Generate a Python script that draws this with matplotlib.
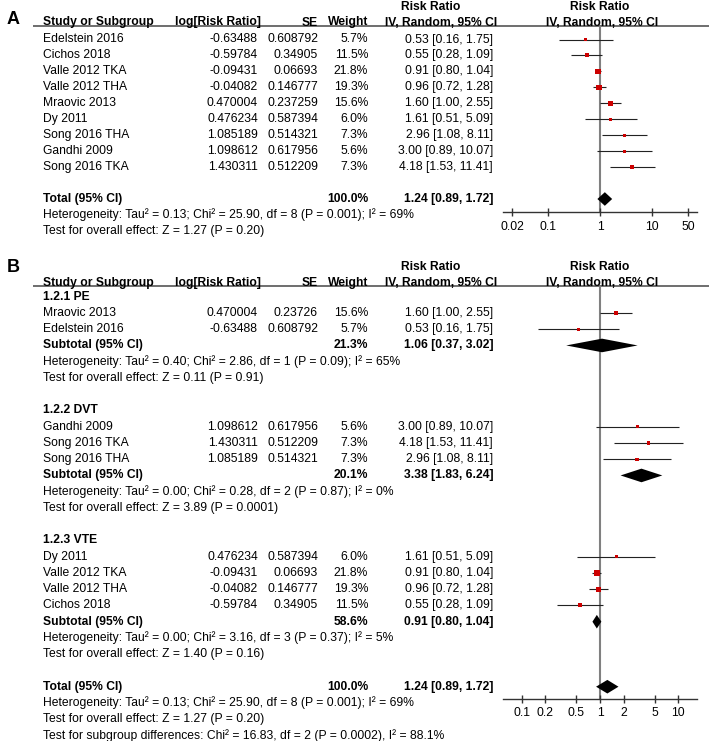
import matplotlib.pyplot as plt
import numpy as np

plt.rcParams['font.family'] = ['Liberation Sans', 'DejaVu Sans']

# ---------------- data ----------------
# panel A (all studies)
studies_a = ['Edelstein 2016', 'Cichos 2018', 'Valle 2012 TKA', 'Valle 2012 THA',
             'Mraovic 2013', 'Dy 2011', 'Song 2016 THA', 'Gandhi 2009', 'Song 2016 TKA']
log_rr_a = [-0.63488, -0.59784, -0.09431, -0.04082, 0.470004, 0.476234, 1.085189, 1.098612, 1.430311]
se_a = [0.608792, 0.34905, 0.06693, 0.146777, 0.237259, 0.587394, 0.514321, 0.617956, 0.512209]
weight_a = [5.7, 11.5, 21.8, 19.3, 15.6, 6.0, 7.3, 5.6, 7.3]
rr_a = [0.53, 0.55, 0.91, 0.96, 1.60, 1.61, 2.96, 3.00, 4.18]
lo_a = [0.16, 0.28, 0.80, 0.72, 1.00, 0.51, 1.08, 0.89, 1.53]
hi_a = [1.75, 1.09, 1.04, 1.28, 2.55, 5.09, 8.11, 10.07, 11.41]

# overall result (same in A and B)
total_w = 100.0
total_rr, total_lo, total_hi = 1.24, 0.89, 1.72
total_het = 'Heterogeneity: Tau² = 0.13; Chi² = 25.90, df = 8 (P = 0.001); I² = 69%'
total_test = 'Test for overall effect: Z = 1.27 (P = 0.20)'
subgroup_diff = 'Test for subgroup differences: Chi² = 16.83, df = 2 (P = 0.0002), I² = 88.1%'

# panel B subgroups
pe_studies = ['Mraovic 2013', 'Edelstein 2016']
pe_log = [0.470004, -0.63488]
pe_se = [0.23726, 0.608792]
pe_w = [15.6, 5.7]
pe_rr = [1.60, 0.53]
pe_lo = [1.00, 0.16]
pe_hi = [2.55, 1.75]

dvt_studies = ['Gandhi 2009', 'Song 2016 TKA', 'Song 2016 THA']
dvt_log = [1.098612, 1.430311, 1.085189]
dvt_se = [0.617956, 0.512209, 0.514321]
dvt_w = [5.6, 7.3, 7.3]
dvt_rr = [3.00, 4.18, 2.96]
dvt_lo = [0.89, 1.53, 1.08]
dvt_hi = [10.07, 11.41, 8.11]

vte_studies = ['Dy 2011', 'Valle 2012 TKA', 'Valle 2012 THA', 'Cichos 2018']
vte_log = [0.476234, -0.09431, -0.04082, -0.59784]
vte_se = [0.587394, 0.06693, 0.146777, 0.34905]
vte_w = [6.0, 21.8, 19.3, 11.5]
vte_rr = [1.61, 0.91, 0.96, 0.55]
vte_lo = [0.51, 0.80, 0.72, 0.28]
vte_hi = [5.09, 1.04, 1.28, 1.09]

group_names = ['1.2.1 PE', '1.2.2 DVT', '1.2.3 VTE']
sub_w = [21.3, 20.1, 58.6]
sub_rr = [1.06, 3.38, 0.91]
sub_lo = [0.37, 1.83, 0.80]
sub_hi = [3.02, 6.24, 1.04]
sub_het = ['Heterogeneity: Tau² = 0.40; Chi² = 2.86, df = 1 (P = 0.09); I² = 65%',
           'Heterogeneity: Tau² = 0.00; Chi² = 0.28, df = 2 (P = 0.87); I² = 0%',
           'Heterogeneity: Tau² = 0.00; Chi² = 3.16, df = 3 (P = 0.37); I² = 5%']
sub_test = ['Test for overall effect: Z = 0.11 (P = 0.91)',
            'Test for overall effect: Z = 3.89 (P = 0.0001)',
            'Test for overall effect: Z = 1.40 (P = 0.16)']

ticks_a = [0.02, 0.1, 1, 10, 50]
tick_labels_a = ['0.02', '0.1', '1', '10', '50']
ticks_b = [0.1, 0.2, 0.5, 1, 2, 5, 10]
tick_labels_b = ['0.1', '0.2', '0.5', '1', '2', '5', '10']

# ---------------- layout ----------------
W, H = 709, 741
FS = 8.7
X_NAME, X_LOG, X_SE, X_W, X_CI = 43, 258, 318, 368, 493
SQ_RED = '#cc0000'

fig = plt.figure(figsize=(W / 100, H / 100), dpi=100)
bg = fig.add_axes([0, 0, 1, 1])
bg.set_xlim(0, W)
bg.set_ylim(H, 0)
bg.axis('off')


def txt(x, y, s, bold=False, ha='left', va='center', size=FS):
    bg.text(x, y, s, ha=ha, va=va, fontsize=size,
            fontweight='bold' if bold else 'normal', color='black')


def header(line_y):
    bg.plot([33, W], [line_y, line_y], color='#555555', lw=1.2, solid_capstyle='butt')
    b = line_y
    txt(X_NAME, b, 'Study or Subgroup', bold=True, va='baseline')
    txt(X_LOG + 3, b, 'log[Risk Ratio]', bold=True, ha='right', va='baseline')
    txt(X_SE, b, 'SE', bold=True, ha='right', va='baseline')
    txt(X_W, b, 'Weight', bold=True, ha='right', va='baseline')
    txt(441, b, 'IV, Random, 95% CI', bold=True, ha='center', va='baseline')
    txt(431, b - 15.7, 'Risk Ratio', bold=True, ha='center', va='baseline')
    txt(602, b, 'IV, Random, 95% CI', bold=True, ha='center', va='baseline')
    txt(600, b - 15.7, 'Risk Ratio', bold=True, ha='center', va='baseline')


def study_rows(y, names, logs, ses, ws, rr, lo, hi):
    for i in range(len(names)):
        txt(X_NAME, y[i], names[i])
        txt(X_LOG, y[i], str(logs[i]), ha='right')
        txt(X_SE, y[i], str(ses[i]), ha='right')
        txt(X_W, y[i], f'{ws[i]:.1f}%', ha='right')
        txt(X_CI, y[i], f'{rr[i]:.2f} [{lo[i]:.2f}, {hi[i]:.2f}]', ha='right')


def pooled_row(y, label, w, rr, lo, hi):
    txt(X_NAME, y, label, bold=True)
    txt(X_W, y, f'{w:.1f}%', bold=True, ha='right')
    txt(X_CI, y, f'{rr:.2f} [{lo:.2f}, {hi:.2f}]', bold=True, ha='right')


def forest_axes(y0, y1, xlim, ticks, labels):
    x0, x1 = 503, 697
    ax = fig.add_axes([x0 / W, 1 - y1 / H, (x1 - x0) / W, (y1 - y0) / H])
    ax.set_xscale('log')
    ax.set_xlim(xlim)
    ax.set_ylim(y1, y0)
    ax.patch.set_alpha(0)
    for s in ['top', 'left', 'right']:
        ax.spines[s].set_visible(False)
    ax.spines['bottom'].set_color('#333333')
    ax.spines['bottom'].set_linewidth(1.0)
    ax.set_yticks([])
    ax.set_xticks(ticks, labels=labels)
    ax.minorticks_off()
    ax.tick_params(axis='x', direction='inout', length=6, width=1, color='#333333',
                   labelsize=FS, pad=3)
    ax.axvline(1, color='#808080', lw=1.5, zorder=1)
    return ax


def squares(ax, y, rr, lo, hi, ws):
    ax.hlines(y, lo, hi, color='#222222', lw=0.8, zorder=2)
    side = 1.2 * np.sqrt(np.array(ws)) * 0.72
    ax.scatter(rr, y, marker='s', s=side ** 2, color=SQ_RED, linewidths=0, zorder=3)


def diamond(ax, y, rr, lo, hi, h=6.8):
    ax.fill([lo, rr, hi, rr], [y, y - h, y, y + h], color='black', lw=0, zorder=3)


# ---------------- panel A ----------------
txt(7, 24, 'A', bold=True, size=13, va='baseline')
header(25.5)
ya = 39.5 + 15.95 * np.arange(len(studies_a) + 4)
study_rows(ya, studies_a, log_rr_a, se_a, weight_a, rr_a, lo_a, hi_a)
r = len(studies_a) + 1
pooled_row(ya[r], 'Total (95% CI)', total_w, total_rr, total_lo, total_hi)
txt(X_NAME, ya[r + 1], total_het)
txt(X_NAME, ya[r + 2], total_test)

axa = forest_axes(25.5, 212.3, (0.0133, 75.2), ticks_a, tick_labels_a)
squares(axa, ya[:len(studies_a)], rr_a, lo_a, hi_a, weight_a)
diamond(axa, ya[r], total_rr, total_lo, total_hi)

# ---------------- panel B ----------------
txt(7, 272.5, 'B', bold=True, size=13, va='baseline')
header(286)
yb = 296.7 + 16.25 * np.arange(30)
axb = forest_axes(286, 699, (0.0577, 17.3), ticks_b, tick_labels_b)

groups = [
    (pe_studies, pe_log, pe_se, pe_w, pe_rr, pe_lo, pe_hi),
    (dvt_studies, dvt_log, dvt_se, dvt_w, dvt_rr, dvt_lo, dvt_hi),
    (vte_studies, vte_log, vte_se, vte_w, vte_rr, vte_lo, vte_hi),
]
r = 0
for g, (names, logs, ses, ws, rr, lo, hi) in enumerate(groups):
    txt(X_NAME, yb[r], group_names[g], bold=True)
    r += 1
    y = yb[r:r + len(names)]
    study_rows(y, names, logs, ses, ws, rr, lo, hi)
    squares(axb, y, rr, lo, hi, ws)
    r += len(names)
    pooled_row(yb[r], 'Subtotal (95% CI)', sub_w[g], sub_rr[g], sub_lo[g], sub_hi[g])
    diamond(axb, yb[r], sub_rr[g], sub_lo[g], sub_hi[g])
    txt(X_NAME, yb[r + 1], sub_het[g])
    txt(X_NAME, yb[r + 2], sub_test[g])
    r += 4

pooled_row(yb[r], 'Total (95% CI)', total_w, total_rr, total_lo, total_hi)
diamond(axb, yb[r], total_rr, total_lo, total_hi)
txt(X_NAME, yb[r + 1], total_het)
txt(X_NAME, yb[r + 2], total_test)
txt(X_NAME, yb[r + 3], subgroup_diff)

fig.savefig('out.png', dpi=100)
